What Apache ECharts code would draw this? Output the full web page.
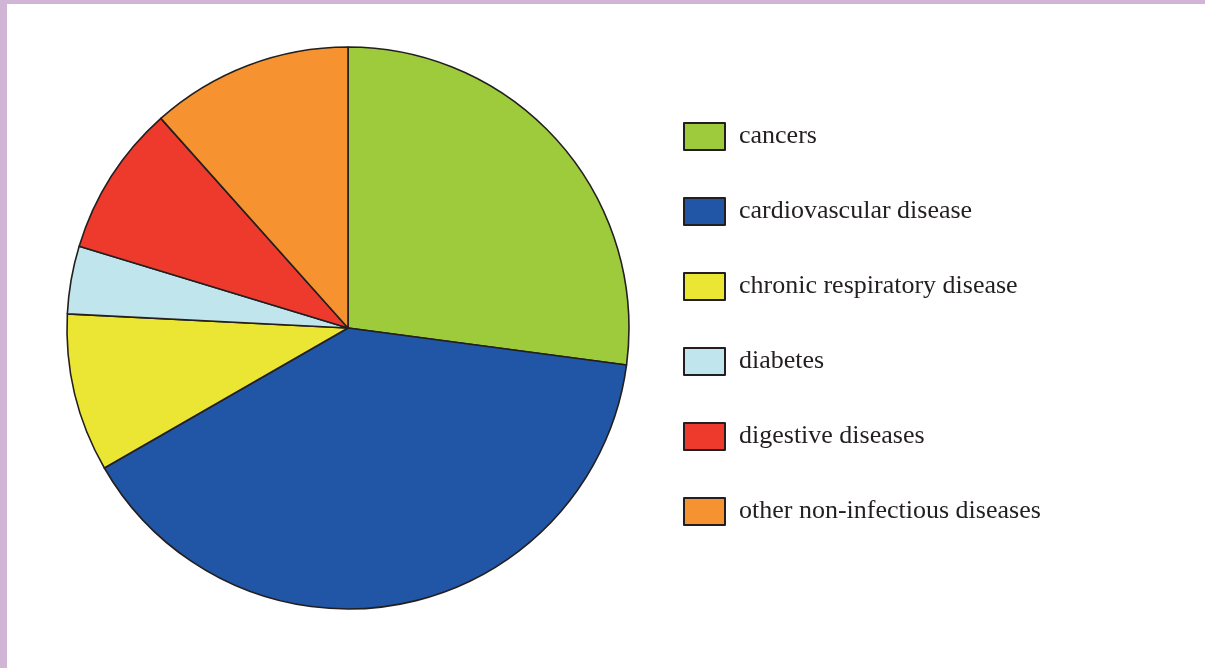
<!DOCTYPE html>
<html>
<head>
<meta charset="utf-8">
<script src="https://cdn.jsdelivr.net/npm/echarts@6/dist/echarts.min.js"></script>
<style>
  html, body { margin: 0; padding: 0; background: #fff; }
  #chart { width: 1205px; height: 668px; }
</style>
</head>
<body>
<div id="chart"></div>
<script>
// Share of deaths by cause (percent)
const causes = ['cancers', 'cardiovascular disease', 'chronic respiratory disease', 'diabetes', 'digestive diseases', 'other non-infectious diseases'];
const shares = [27.1, 39.6, 9.1, 3.9, 8.7, 11.6];
const colors = ['#9ecb3c', '#2056a5', '#ebe634', '#c1e5ec', '#ee3a2c', '#f6922f'];

const chart = echarts.init(document.getElementById('chart'));

chart.setOption({
  animation: false,
  graphic: [
    { type: 'rect', shape: { x: 0, y: 0, width: 1205, height: 4 }, style: { fill: '#d1b5d7' } },
    { type: 'rect', shape: { x: 0, y: 0, width: 7, height: 668 }, style: { fill: '#d1b5d7' } }
  ],
  legend: {
    orient: 'vertical',
    left: 683,
    top: 122,
    padding: 0,
    icon: 'rect',
    itemWidth: 41,
    itemHeight: 27,
    itemGap: 46,
    data: causes,
    itemStyle: { borderColor: '#231f20', borderWidth: 2 },
    textStyle: {
      fontFamily: 'Liberation Serif',
      fontSize: 26,
      color: '#231f20',
      lineHeight: 27,
      padding: [0, 0, 0, 9]
    }
  },
  series: [
    {
      type: 'pie',
      center: [348, 328],
      radius: 281,
      startAngle: 90,
      clockwise: true,
      label: { show: false },
      labelLine: { show: false },
      emphasis: { disabled: true },
      itemStyle: { borderColor: '#231f20', borderWidth: 1.6 },
      data: causes.map((name, i) => ({
        name: name,
        value: shares[i],
        itemStyle: { color: colors[i] }
      }))
    }
  ]
});
</script>
</body>
</html>
